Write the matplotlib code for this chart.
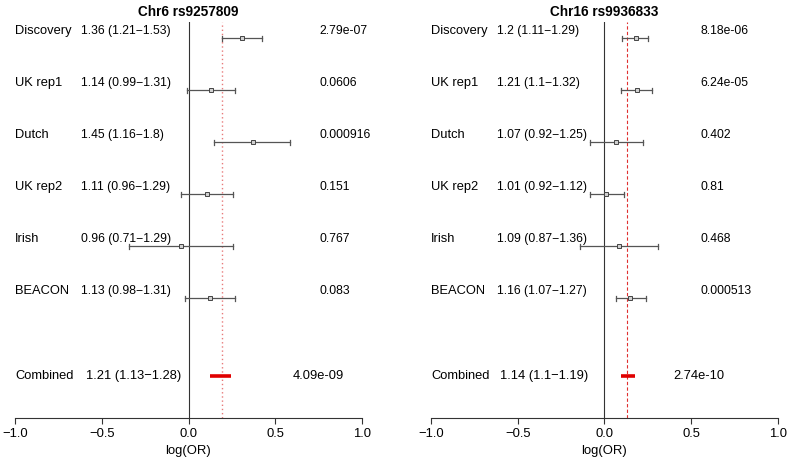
import numpy as np
import matplotlib
matplotlib.use("Agg")
import matplotlib.pyplot as plt

plt.rcParams['font.family'] = ['Liberation Sans', 'DejaVu Sans']

studies = ["Discovery", "UK rep1", "Dutch", "UK rep2", "Irish", "BEACON"]

# Chr6 rs9257809
chr6_title = "Chr6 rs9257809"
chr6_or = [1.36, 1.14, 1.45, 1.11, 0.96, 1.13]
chr6_lo = [1.21, 0.99, 1.16, 0.96, 0.71, 0.98]
chr6_hi = [1.53, 1.31, 1.8, 1.29, 1.29, 1.31]
chr6_p = ["2.79e-07", "0.0606", "0.000916", "0.151", "0.767", "0.083"]
chr6_comb = (1.21, 1.13, 1.28, "4.09e-09")

# Chr16 rs9936833
chr16_title = "Chr16 rs9936833"
chr16_or = [1.2, 1.21, 1.07, 1.01, 1.09, 1.16]
chr16_lo = [1.11, 1.1, 0.92, 0.92, 0.87, 1.07]
chr16_hi = [1.29, 1.32, 1.25, 1.12, 1.36, 1.27]
chr16_p = ["8.18e-06", "6.24e-05", "0.402", "0.81", "0.468", "0.000513"]
chr16_comb = (1.14, 1.1, 1.19, "2.74e-10")

xticks = [-1.0, -0.5, 0.0, 0.5, 1.0]
tick_labels = ["\u22121.0", "\u22120.5", "0.0", "0.5", "1.0"]


def fmt_ci(o, l, h):
    return "%s (%s\u2212%s)" % (repr(o), repr(l), repr(h))


fig = plt.figure(figsize=(8.0, 4.61), dpi=100)
W, H = 800.0, 461.0
gray = "#555555"


def panel(left_px, right_px, title, ors, los, his, ps, comb, p_x, pc_x, orc_x, ref_style):
    ax = fig.add_axes([left_px / W, 1 - 418 / H, (right_px - left_px) / W, (418 - 22) / H])
    ax.set_xlim(-1.0, 1.0)
    ax.set_ylim(-0.3, 7.315)
    for s in ["top", "right", "left"]:
        ax.spines[s].set_visible(False)
    ax.spines["bottom"].set_color("#333333")
    ax.spines["bottom"].set_linewidth(0.8)
    ax.set_yticks([])
    ax.set_xticks(xticks)
    ax.set_xticklabels(tick_labels, fontsize=9.4)
    ax.tick_params(axis="x", length=4, width=0.8, color="#333333", pad=3)
    ax.set_xlabel("log(OR)", fontsize=9.4, labelpad=4)
    ax.set_title(title, fontsize=9.8, fontweight="bold", pad=4)

    ax.axvline(0, color="#333333", lw=0.8)
    ax.axvline(np.log(comb[0]), **ref_style)

    ys = [7, 6, 5, 4, 3, 2]
    for i, name in enumerate(studies):
        y = ys[i]
        lo, hi, m = np.log(los[i]), np.log(his[i]), np.log(ors[i])
        ax.plot([lo, hi], [y, y], color=gray, lw=0.9)
        ax.plot([lo, lo], [y - 0.055, y + 0.055], color=gray, lw=0.9)
        ax.plot([hi, hi], [y - 0.055, y + 0.055], color=gray, lw=0.9)
        ax.plot([m], [y], marker="s", ms=3.4, mfc="#d0d0d0", mec="#444444", mew=0.7)
        ty = y + 0.14
        ax.text(-1.0, ty, name, fontsize=9.3, va="center", ha="left")
        ax.text(-0.62, ty, fmt_ci(ors[i], los[i], his[i]), fontsize=8.7, va="center", ha="left")
        ax.text(p_x, ty, ps[i], fontsize=8.7, va="center", ha="left")

    yc = 0.5
    ax.plot([np.log(comb[1]), np.log(comb[2])], [yc, yc], color="#e00000", lw=2.6, solid_capstyle="butt")
    ax.text(-1.0, yc, "Combined", fontsize=9.3, va="center", ha="left")
    ax.text(orc_x, yc, fmt_ci(comb[0], comb[1], comb[2]), fontsize=9.3, va="center", ha="left")
    ax.text(pc_x, yc, comb[3], fontsize=9.3, va="center", ha="left")
    return ax


panel(15.3, 361.7, chr6_title, chr6_or, chr6_lo, chr6_hi, chr6_p, chr6_comb,
      0.757, 0.60, -0.592,
      dict(color="#e87a7a", lw=1.0, linestyle=(0, (1, 2))))
panel(431.0, 777.7, chr16_title, chr16_or, chr16_lo, chr16_hi, chr16_p, chr16_comb,
      0.553, 0.398, -0.60,
      dict(color="#e03030", lw=0.8, linestyle=(0, (3, 2))))

fig.savefig("out.png", dpi=100)
